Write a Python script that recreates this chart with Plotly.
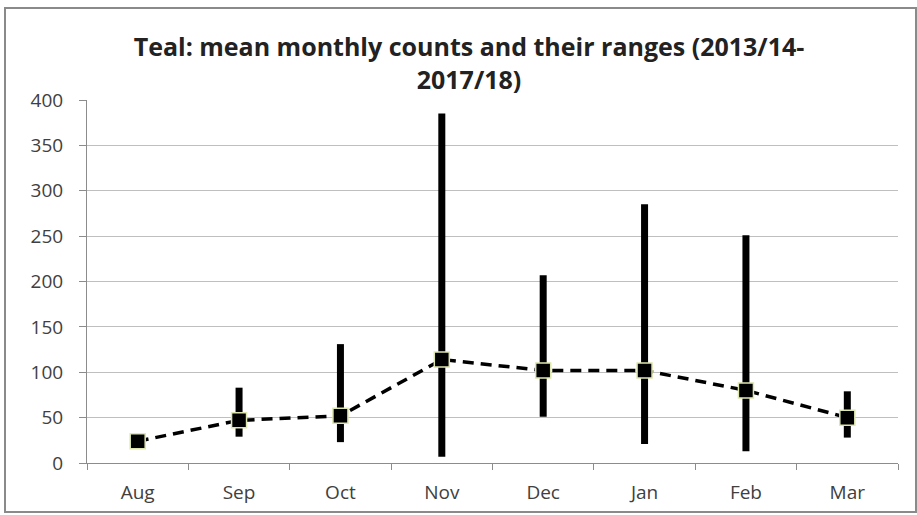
import plotly.graph_objects as go

# Monthly Teal counts, winters 2013/14 to 2017/18
months = ["Aug", "Sep", "Oct", "Nov", "Dec", "Jan", "Feb", "Mar"]
mean_count = [24, 47, 52, 114, 102, 102, 80, 50]
max_count = [24, 83, 131, 385, 207, 285, 251, 79]
min_count = [24, 29, 23, 7, 51, 21, 13, 28]

err_plus = [hi - m for hi, m in zip(max_count, mean_count)]
err_minus = [m - lo for m, lo in zip(mean_count, min_count)]

W, H = 917, 515
L, R, T, B = 87, 19, 100, 52
plot_w = W - L - R
plot_h = H - T - B

fig = go.Figure()
fig.add_trace(go.Scatter(
    x=months,
    y=mean_count,
    mode="lines+markers",
    line=dict(color="black", width=3.5, dash="11px,7px"),
    marker=dict(symbol="square", size=15, color="black",
                line=dict(color="#dfe6b0", width=1.5)),
    error_y=dict(type="data", symmetric=False, array=err_plus,
                 arrayminus=err_minus, color="black", thickness=7, width=0),
    showlegend=False,
    hoverinfo="x+y",
))

def px_to_paper_x(px):
    return (px - L) / plot_w

def px_to_paper_y(py):
    return (H - B - py) / plot_h

# outer chart frame
fig.add_shape(type="rect", xref="paper", yref="paper",
              x0=px_to_paper_x(5), x1=px_to_paper_x(916),
              y0=px_to_paper_y(512), y1=px_to_paper_y(8),
              line=dict(color="#8a8a8a", width=2), layer="below")

fig.update_layout(
    width=W, height=H,
    margin=dict(l=L, r=R, t=T, b=B),
    paper_bgcolor="white",
    plot_bgcolor="white",
    font=dict(family="Open Sans, Calibri, sans-serif", color="#404040", size=19),
    title=dict(
        text="Teal: mean monthly counts and their ranges (2013/14-<br>2017/18)",
        x=469 / W, xanchor="center", xref="container",
        y=1 - 56 / H, yanchor="top", yref="container",
        font=dict(family="Open Sans, Calibri, sans-serif", size=25, color="#222222",
                  weight="bold"),
    ),
    xaxis=dict(
        type="category",
        showgrid=False,
        showline=True, linecolor="#8c8c8c", linewidth=1,
        ticks="outside", tickson="boundaries", ticklen=6, tickcolor="#8c8c8c",
        tickfont=dict(size=19, color="#404040"),
        ticklabelstandoff=12,
        automargin=False,
        range=[-0.5, 7.5],
    ),
    yaxis=dict(
        range=[0, 400], dtick=50,
        showgrid=True, gridcolor="#bfbfbf", gridwidth=1,
        showline=True, linecolor="#8c8c8c", linewidth=1,
        ticks="outside", ticklen=7, tickcolor="#8c8c8c",
        tickfont=dict(size=19, color="#404040"),
        ticklabelstandoff=12,
        automargin=False,
        zeroline=False,
    ),
)

fig.write_html("out.html")
